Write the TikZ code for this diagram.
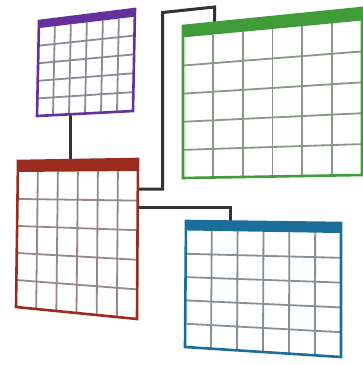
\documentclass[tikz,border=0pt]{standalone}
\usetikzlibrary{calc}
\definecolor{cpurple}{HTML}{64309E}
\definecolor{cgreen}{HTML}{3F9C38}
\definecolor{cred}{HTML}{992B1F}
\definecolor{cblue}{HTML}{1C6E9A}
\definecolor{wire}{HTML}{333333}
\tikzset{
  outline/.style={draw=#1, line width=2.6pt, line join=miter},
  gridline/.style={draw=#1!15!gray!85, line width=1.8pt},
  connector/.style={draw=wire, line width=3pt, line join=miter},
}
% #1 prefix, #2 TL, #3 TR, #4 BR, #5 BL, #6 colour
\newcommand{\drawcal}[6]{%
  \coordinate (#1tl) at #2;
  \coordinate (#1tr) at #3;
  \coordinate (#1br) at #4;
  \coordinate (#1bl) at #5;
  \coordinate (#1htl) at ($(#1tl)!0.075!(#1bl)$);
  \coordinate (#1htr) at ($(#1tr)!0.075!(#1br)$);
  \fill[white] (#1tl) -- (#1tr) -- (#1br) -- (#1bl) -- cycle;
  \foreach \i in {1,...,5}{
    \draw[gridline=#6] ($(#1htl)!\i/6!(#1htr)$) -- ($(#1bl)!\i/6!(#1br)$);
  }
  \foreach \j in {1,...,4}{
    \draw[gridline=#6] ($(#1htl)!\j/5!(#1bl)$) -- ($(#1htr)!\j/5!(#1br)$);
  }
  \fill[#6] (#1tl) -- (#1tr) -- (#1htr) -- (#1htl) -- cycle;
  \draw[outline=#6] (#1tl) -- (#1tr) -- (#1br) -- (#1bl) -- cycle;
}
\begin{document}
\begin{tikzpicture}[x=1pt,y=-1pt]
\useasboundingbox (0,0) rectangle (363,365);
% connector anchors
\coordinate (pb) at (70.5,113.5);
\coordinate (rt) at (70.5,161);
\coordinate (rg1) at (137.5,189);
\coordinate (rg2) at (162.5,189);
\coordinate (rg3) at (162.5,12.5);
\coordinate (rg4) at (214.5,7);
\coordinate (gt) at (214.5,24);
\coordinate (rb1) at (137.5,207);
\coordinate (rb2) at (230,207);
\coordinate (bt) at (230,222);
\draw[connector] (pb) -- (rt);
\draw[connector] (rg1) -- (rg2) -- (rg3) -- (rg4) -- (gt);
\draw[connector] (rb1) -- (rb2) -- (bt);
% calendars
\drawcal{p}{(39,21)}{(135,9)}{(133,111)}{(37,116)}{cpurple}
\drawcal{g}{(183,26)}{(362,8)}{(362,175)}{(183,178)}{cgreen}
\drawcal{r}{(18,161)}{(138,159)}{(137,319)}{(16,307)}{cred}
\drawcal{b}{(186,221)}{(341,223)}{(341,357)}{(185,347)}{cblue}
\end{tikzpicture}
\end{document}
